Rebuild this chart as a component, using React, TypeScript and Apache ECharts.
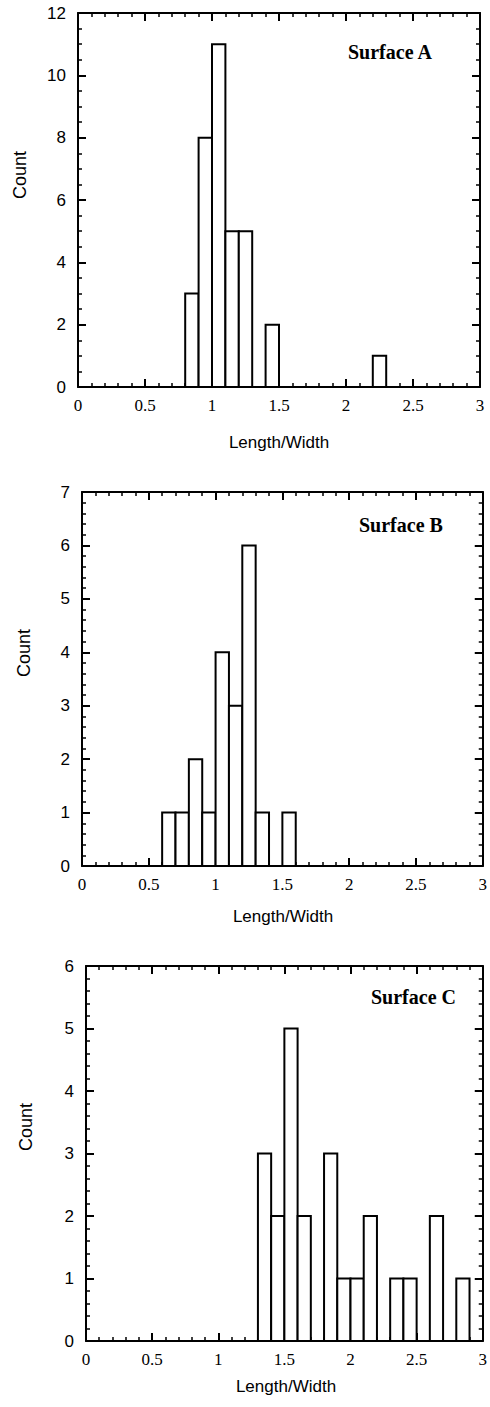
import React, { useEffect, useRef } from "react";
import * as echarts from "echarts";

// ---- data ----
const BIN_WIDTH = 0.1;
const xTicks = ["0", "0.5", "1", "1.5", "2", "2.5", "3"];

const binLowA = [0.8, 0.9, 1.0, 1.1, 1.2, 1.4, 2.2];
const countsA = [3, 8, 11, 5, 5, 2, 1];

const binLowB = [0.6, 0.7, 0.8, 0.9, 1.0, 1.1, 1.2, 1.3, 1.5];
const countsB = [1, 1, 2, 1, 4, 3, 6, 1, 1];

const binLowC = [1.3, 1.4, 1.5, 1.6, 1.8, 1.9, 2.0, 2.1, 2.3, 2.4, 2.6, 2.8];
const countsC = [3, 2, 5, 2, 3, 1, 1, 2, 1, 1, 2, 1];

const panels = [
  { name: "Surface A", low: binLowA, counts: countsA, yMax: 12, yInt: 2, yMinor: 4,
    grid: { left: 78, top: 13, width: 402, height: 374 },
    title: [348, 52], count: [20, 175], xname: [279, 442] },
  { name: "Surface B", low: binLowB, counts: countsB, yMax: 7, yInt: 1, yMinor: 5,
    grid: { left: 82, top: 492, width: 402, height: 374 },
    title: [359, 525], count: [24, 653], xname: [283, 916] },
  { name: "Surface C", low: binLowC, counts: countsC, yMax: 6, yInt: 1, yMinor: 5,
    grid: { left: 86, top: 966, width: 400, height: 375 },
    title: [371, 997], count: [26, 1127], xname: [286, 1386] },
];

export default function App() {
  const ref = useRef<HTMLDivElement>(null);
  useEffect(() => {
    if (!ref.current) return;
    const chart = echarts.init(ref.current, undefined, { renderer: "svg" });
    const line = () => ({ show: true, onZero: false, lineStyle: { color: "#000", width: 2 } });
    const tick = (len: number) => ({ show: true, inside: true, length: len, lineStyle: { color: "#000", width: 2 } });
    const minor = (n: number) => ({ show: true, splitNumber: n, length: 4, lineStyle: { color: "#000", width: 1.5 } });

    const grids: any[] = [];
    const xAxes: any[] = [];
    const yAxes: any[] = [];
    const series: any[] = [];
    const graphics: any[] = [];

    panels.forEach((p, i) => {
      grids.push({ ...p.grid, containLabel: false });
      xAxes.push({
        type: "value", gridIndex: i, position: "bottom", min: 0, max: 3, interval: 0.5, z: 3,
        axisLine: line(), axisTick: tick(8), minorTick: minor(5), splitLine: { show: false },
        axisLabel: {
          show: true, margin: 10, color: "#000", fontSize: 17, fontFamily: "Liberation Serif",
          formatter: (v: number) => xTicks[Math.round(v / 0.5)] ?? String(v),
        },
      });
      xAxes.push({
        type: "value", gridIndex: i, position: "top", min: 0, max: 3, interval: 0.5, z: 3,
        axisLine: line(), axisTick: tick(8), minorTick: minor(5), splitLine: { show: false },
        axisLabel: { show: false },
      });
      yAxes.push({
        type: "value", gridIndex: i, position: "left", min: 0, max: p.yMax, interval: p.yInt, z: 3,
        axisLine: line(), axisTick: tick(8), minorTick: minor(p.yMinor), splitLine: { show: false },
        axisLabel: { show: true, margin: 12, color: "#000", fontSize: 17, fontFamily: "Liberation Sans" },
      });
      yAxes.push({
        type: "value", gridIndex: i, position: "right", min: 0, max: p.yMax, interval: p.yInt, z: 3,
        axisLine: line(), axisTick: tick(8), minorTick: minor(p.yMinor), splitLine: { show: false },
        axisLabel: { show: false },
      });
      series.push({
        type: "custom",
        name: p.name,
        xAxisIndex: 2 * i,
        yAxisIndex: 2 * i,
        data: p.low.map((lo, k) => [lo, lo + BIN_WIDTH, p.counts[k]]),
        encode: { x: [0, 1], y: 2 },
        z: 5,
        clip: false,
        renderItem: (_params: any, api: any) => {
          const a = api.coord([api.value(0), api.value(2)]);
          const b = api.coord([api.value(1), 0]);
          return {
            type: "rect",
            shape: { x: a[0], y: a[1], width: b[0] - a[0], height: b[1] - a[1] },
            style: { fill: "#fff", stroke: "#000", lineWidth: 2 },
          };
        },
      });
      graphics.push({
        type: "text", x: p.title[0], y: p.title[1],
        style: { text: p.name, fill: "#000", fontSize: 20, fontWeight: "bold", fontFamily: "Liberation Serif", align: "left", verticalAlign: "middle" },
      });
      graphics.push({
        type: "text", x: p.count[0], y: p.count[1], rotation: Math.PI / 2,
        style: { text: "Count", fill: "#000", fontSize: 18, fontFamily: "Liberation Sans", align: "center", verticalAlign: "middle" },
      });
      graphics.push({
        type: "text", x: p.xname[0], y: p.xname[1],
        style: { text: "Length/Width", fill: "#000", fontSize: 17, fontFamily: "Liberation Sans", align: "center", verticalAlign: "middle" },
      });
    });

    chart.setOption({
      animation: false,
      backgroundColor: "#fff",
      grid: grids,
      xAxis: xAxes,
      yAxis: yAxes,
      series,
      graphic: graphics,
    });
    return () => chart.dispose();
  }, []);
  return (
    <div
      ref={ref}
      style={{ position: "absolute", left: 0, top: 0, width: 490, height: 1407 }}
    />
  );
}
